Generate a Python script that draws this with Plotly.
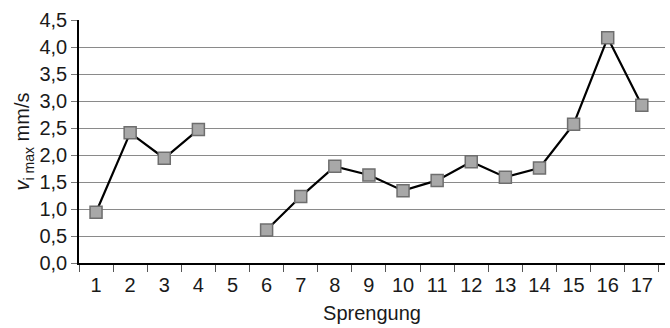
import plotly.graph_objects as go

sprengung = list(range(1, 18))
v_imax = [0.94, 2.41, 1.94, 2.47, None, 0.61, 1.23, 1.79, 1.63, 1.34,
          1.53, 1.875, 1.59, 1.76, 2.57, 4.17, 2.92]
y_ticks = [0, 0.5, 1.0, 1.5, 2.0, 2.5, 3.0, 3.5, 4.0, 4.5]
y_tick_text = ["0,0", "0,5", "1,0", "1,5", "2,0", "2,5", "3,0", "3,5", "4,0", "4,5"]
x_tick_text = [str(s) for s in sprengung]
x_boundaries = [s - 0.5 for s in sprengung] + [17.5]

FONT = "Liberation Sans, Arial, sans-serif"

fig = go.Figure()
fig.add_trace(go.Scatter(
    x=sprengung, y=v_imax, mode="lines+markers",
    connectgaps=False,
    line=dict(color="black", width=2.2),
    marker=dict(symbol="square", size=12, color="#a8a8a8",
                line=dict(color="#6e6e6e", width=1.5)),
    showlegend=False,
))

fig.update_layout(
    width=670, height=328,
    margin=dict(l=79, r=5, t=20, b=65),
    paper_bgcolor="white", plot_bgcolor="white",
    font=dict(family=FONT, size=20, color="#1a1a1a"),
    xaxis=dict(
        range=[0.5, 17.68],
        tickmode="array", tickvals=sprengung, ticktext=x_tick_text,
        ticks="", showgrid=False, zeroline=False,
        showline=True, linecolor="black", linewidth=1.5,
        tickfont=dict(size=20),
        ticklabelstandoff=3,
        minor=dict(tickmode="array", tickvals=x_boundaries, ticks="outside",
                   ticklen=7, tickcolor="#555", tickwidth=1, showgrid=False),
        title=dict(text="Sprengung", font=dict(size=20), standoff=11),
        automargin=False,
    ),
    yaxis=dict(
        range=[0, 4.5],
        tickmode="array", tickvals=y_ticks, ticktext=y_tick_text,
        ticks="outside", ticklen=6, tickcolor="#777",
        showgrid=True, gridcolor="#8a8a8a", gridwidth=1,
        zeroline=False,
        showline=True, linecolor="black", linewidth=1.5,
        tickfont=dict(size=20),
        title=dict(text="<i>v</i><sub>i max</sub> mm/s", font=dict(size=20), standoff=4),
        automargin=False,
    ),
)

fig.write_html("out.html", config={"displayModeBar": False},
               post_script="document.body.style.margin='0';")
